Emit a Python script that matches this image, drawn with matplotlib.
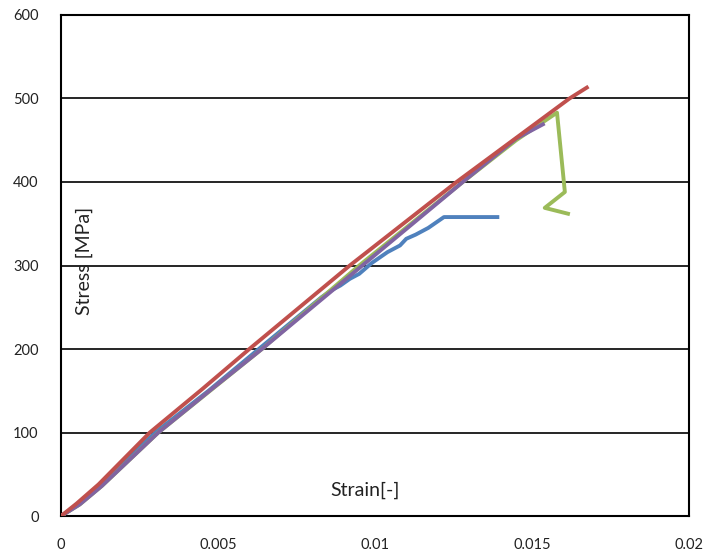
import numpy as np
import matplotlib
matplotlib.use("Agg")
import matplotlib.pyplot as plt

plt.rcParams['font.family'] = ['Lato', 'DejaVu Sans']

#--------test curves: strain [-] vs stress [MPa]-------#
strain_red = [0, 0.0005, 0.0012, 0.00283, 0.0045, 0.0060, 0.0076, 0.0092, 0.0109, 0.0126, 0.0144, 0.0162, 0.01675]
stress_red = [0, 15, 38, 100, 152, 200, 250, 300, 350, 400, 450, 500, 513]

strain_purple = [0, 0.0006, 0.0013, 0.0031, 0.0048, 0.0064, 0.0080, 0.0096, 0.0112, 0.0128, 0.0145, 0.01535]
stress_purple = [0, 14, 36, 100, 152, 200, 250, 300, 350, 400, 452, 469]

strain_green = [0, 0.0006, 0.0013, 0.0031, 0.0064, 0.0095, 0.0128, 0.0145, 0.0158, 0.01605, 0.01541, 0.01615]
stress_green = [0, 14, 36, 100, 200, 300, 400, 450, 483, 388, 369, 362]

strain_blue = [0, 0.0006, 0.0012, 0.0030, 0.0047, 0.0063, 0.0083, 0.0086, 0.0089, 0.0092, 0.0095,
               0.0099, 0.0104, 0.0108, 0.0110, 0.0113, 0.0117, 0.0122, 0.0139]
stress_blue = [0, 15, 36, 100, 150, 200, 262, 270, 276, 284, 290,
               303, 316, 324, 332, 337, 345, 358, 358]

x_ticks = [0, 0.005, 0.01, 0.015, 0.02]
x_tick_labels = ["0", "0.005", "0.01", "0.015", "0.02"]
y_ticks = [0, 100, 200, 300, 400, 500, 600]

fig = plt.figure(figsize=(7.08, 5.52), dpi=100)
ax = fig.add_axes([0.086, 0.065, 0.887, 0.908])

lw = 2.8
ax.plot(strain_blue, stress_blue, color="#4F81BD", lw=lw, zorder=3, solid_joinstyle="round")
ax.plot(strain_green, stress_green, color="#9BBB59", lw=lw, zorder=4, solid_joinstyle="round")
ax.plot(strain_purple, stress_purple, color="#8064A2", lw=lw, zorder=5, solid_joinstyle="round")
ax.plot(strain_red, stress_red, color="#C0504D", lw=lw, zorder=6, solid_joinstyle="round")

ax.set_xlim(0, 0.02)
ax.set_ylim(0, 600)
ax.set_xticks(x_ticks)
ax.set_xticklabels(x_tick_labels)
ax.set_yticks(y_ticks)
ax.tick_params(length=0, labelsize=10.5, colors="#222222")
ax.tick_params(axis='x', pad=16)
ax.tick_params(axis='y', pad=16)

ax.yaxis.grid(True, color="black", lw=1.2)
ax.set_axisbelow(True)
for s in ax.spines.values():
    s.set_color("black")
    s.set_linewidth(1.5)

# axis titles sit inside the plot area
ax.text(0.038, 0.51, "Stress [MPa]", transform=ax.transAxes, rotation=90,
        ha="center", va="center", fontsize=14, color="#222222")
ax.text(0.485, 0.052, "Strain[-]", transform=ax.transAxes,
        ha="center", va="center", fontsize=14, color="#222222")

plt.savefig("out.png", dpi=100)
